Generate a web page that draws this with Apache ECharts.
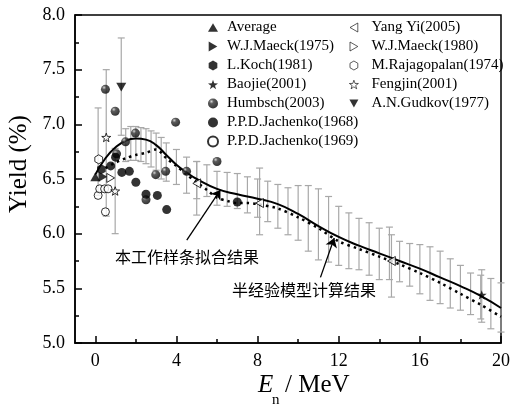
<!DOCTYPE html>
<html>
<head>
<meta charset="utf-8">
<script src="https://cdn.jsdelivr.net/npm/echarts@6/dist/echarts.min.js"></script>
<style>
html,body{margin:0;padding:0;background:#fff}
#chart{width:513px;height:405px}
</style>
</head>
<body>
<div id="chart"></div>
<script>
// spline fit of this work (solid line)
const fitX = [0,0.5,1,1.5,2,2.5,3,3.5,4,4.5,5,6,7,8,9,10,11,12,13,14,15,16,17,18,19,20];
const fitY = [6.54,6.69,6.79,6.85,6.87,6.86,6.81,6.72,6.63,6.56,6.50,6.41,6.36,6.32,6.27,6.18,6.07,5.97,5.89,5.82,5.75,5.68,5.60,5.52,5.43,5.32];

// semi-empirical model (dotted line)
const modelX = [0.5,1,1.5,2,2.5,3,3.25,3.5,4,4.5,5,5.5,6,6.5,7,7.5,8,9,10,11,12,13,14,15,16,17,18,19,20];
const modelY = [6.60,6.65,6.69,6.72,6.74,6.77,6.74,6.69,6.62,6.54,6.47,6.40,6.33,6.30,6.28,6.28,6.27,6.23,6.15,6.05,5.93,5.86,5.79,5.72,5.64,5.55,5.45,5.35,5.24];

// error band of the fit: x, low, high
const errX  = [1.5,1.75,2,2.25,2.5,2.75,3,3.25,3.5,4,4.5,5,5.5,6,6.5,7,7.5,8,8.5,9,9.5,10,10.5,11,11.5,12,12.5,13,13.5,14,14.5,15,15.5,16,16.5,17,17.5,18,18.5,19,19.5,20];
const errLo = [6.66,6.67,6.67,6.66,6.64,6.61,6.58,6.50,6.48,6.45,6.37,6.32,6.34,6.26,6.25,6.23,6.19,6.15,6.11,6.05,5.99,5.94,5.84,5.76,5.74,5.71,5.68,5.67,5.62,5.58,5.58,5.56,5.52,5.45,5.39,5.36,5.32,5.30,5.26,5.22,5.13,5.10];
const errHi = [6.96,6.98,6.98,6.97,6.96,6.94,6.92,6.88,6.83,6.77,6.70,6.66,6.63,6.57,6.56,6.55,6.52,6.50,6.48,6.45,6.42,6.44,6.44,6.41,6.34,6.25,6.19,6.14,6.10,6.05,6.06,5.93,5.91,5.90,5.88,5.84,5.77,5.71,5.64,5.62,5.59,5.55];

// measurements
const average     = [[0, 6.52]];
const maeck1975   = [[0.38, 6.52]];
const koch1981    = [[0.3, 6.59]];
const baojie2001  = [[19.05, 5.44]];
const humbsch2003 = [[0.5,7.32],[0.98,7.12],[1.05,6.73],[1.49,6.84],[1.98,6.92],[2.5,6.31],[2.98,6.54],[3.47,6.57],[3.96,7.02],[4.5,6.57],[6.0,6.66]];
const ppd1968     = [[0.76,6.62],[1.0,6.70],[1.31,6.56],[1.68,6.57],[2.0,6.47],[2.5,6.36],[3.06,6.35],[3.52,6.22],[7.0,6.29]];
const ppd1969     = [[0.14,6.35],[0.22,6.41],[0.46,6.41],[0.63,6.41],[0.5,6.20]];
const yangyi2005  = [[5.0,6.46],[8.1,6.28],[14.6,5.75]];
const maeck1980   = [[0.76,6.51]];
const raja1974    = [[0.17,6.68]];
const fengjin2001 = [[0.54,6.88],[0.98,6.39]];
const gudkov1977  = [[1.28,7.34]];

// error bars of single measurements: x, low, high
const pointErr = [[1.28,6.90,7.79],[0.54,6.16,7.50],[0.14,6.35,7.15],[0.98,6.00,6.78],[5.0,6.17,6.66],[8.1,5.99,6.60],[14.6,5.42,5.99],[19.05,5.19,5.67]];

const majorX = [0,4,8,12,16,20];
const minorX = [2,6,10,14,18];

// arrows of the two notes
const arrowFit   = [[4.51,5.94],[6.17,6.40]];
const arrowModel = [[11.1,5.60],[11.78,5.96]];

const legendLeft  = ['Average','W.J.Maeck(1975)','L.Koch(1981)','Baojie(2001)','Humbsch(2003)','P.P.D.Jachenko(1968)','P.P.D.Jachenko(1969)'];
const legendRight = ['Yang Yi(2005)','W.J.Maeck(1980)','M.Rajagopalan(1974)','Fengjin(2001)','A.N.Gudkov(1977)'];

const serif = 'Liberation Serif';
const triUp = 'path://M0,-1L0.866,0.5L-0.866,0.5Z';
const triDown = 'path://M0,1L0.866,-0.5L-0.866,-0.5Z';
const triRight = 'path://M1,0L-0.5,0.866L-0.5,-0.866Z';
const triLeft = 'path://M-1,0L0.5,0.866L0.5,-0.866Z';
const hexagon = 'path://M0,-1L0.866,-0.5L0.866,0.5L0,1L-0.866,0.5L-0.866,-0.5Z';
const star = 'path://M0,-1L0.235,-0.324L0.951,-0.309L0.380,0.124L0.588,0.809L0,0.4L-0.588,0.809L-0.380,0.124L-0.951,-0.309L-0.235,-0.324Z';
const ball = {type:'radial', x:0.35, y:0.3, r:0.75, colorStops:[{offset:0,color:'#c8c8c8'},{offset:0.3,color:'#333'},{offset:1,color:'#000'}]};
const filled = {color:'#000'};
const hollow = {color:'#fff', borderColor:'#000', borderWidth:1};

function errRender(params, api) {
  const x = api.value(0);
  const p1 = api.coord([x, api.value(2)]);
  const p2 = api.coord([x, api.value(1)]);
  const st = {stroke:'#a8a8a8', lineWidth:1.2};
  return {type:'group', children:[
    {type:'line', shape:{x1:p1[0], y1:p1[1], x2:p2[0], y2:p2[1]}, style:st},
    {type:'line', shape:{x1:p1[0]-3.5, y1:p1[1], x2:p1[0]+3.5, y2:p1[1]}, style:st},
    {type:'line', shape:{x1:p2[0]-3.5, y1:p2[1], x2:p2[0]+3.5, y2:p2[1]}, style:st}
  ]};
}

function pts(name, data, symbol, size, style) {
  return {name, type:'scatter', data, symbol, symbolSize:size,
    symbolKeepAspect:true, itemStyle:style, z:5};
}

const chart = echarts.init(document.getElementById('chart'));
chart.setOption({
  animation: false,
  backgroundColor: '#fff',
  grid: {left:75, right:8, top:15, bottom:62, show:true, borderColor:'#000', borderWidth:1.5},
  legend: [
    {data:legendLeft, orient:'vertical', left:202, top:15, itemWidth:10, itemHeight:10, itemGap:4,
     textStyle:{fontFamily:serif, fontSize:15, color:'#000', padding:[0,0,0,4]}},
    {data:legendRight, orient:'vertical', left:344, top:15, itemWidth:9, itemHeight:9, itemGap:4,
     itemStyle:{borderWidth:0.8},
     textStyle:{fontFamily:serif, fontSize:15, color:'#000', padding:[0,0,0,8]}}
  ],
  xAxis: [
    {type:'value', min:-1, max:20,
     axisLine:{onZero:false, lineStyle:{color:'#000', width:1.5}},
     axisTick:{inside:true, length:7, customValues:majorX, lineStyle:{color:'#000', width:1.5}},
     axisLabel:{customValues:majorX, fontFamily:serif, fontSize:18, color:'#000', margin:9},
     splitLine:{show:false}},
    {type:'value', min:-1, max:20, position:'bottom',
     axisLine:{show:false, onZero:false},
     axisTick:{inside:true, length:4, customValues:minorX, lineStyle:{color:'#000', width:1.5}},
     axisLabel:{show:false}, splitLine:{show:false}}
  ],
  yAxis: {type:'value', min:5, max:8, interval:0.5,
    axisLine:{show:true, onZero:false, lineStyle:{color:'#000', width:1.5}},
    axisTick:{inside:true, length:7, lineStyle:{color:'#000', width:1.5}},
    minorTick:{show:true, splitNumber:2, length:4, lineStyle:{color:'#000', width:1.5}},
    axisLabel:{fontFamily:serif, fontSize:18, color:'#000', margin:10, formatter:v => v.toFixed(1)},
    splitLine:{show:false}},
  graphic: [
    {type:'text', x:19, y:164, rotation:Math.PI/2,
     style:{text:'Yield (%)', font:'25px "Liberation Serif"', fill:'#000', align:'center', verticalAlign:'middle'}},
    {type:'text', x:258, y:385,
     style:{text:'E', font:'italic 25px "Liberation Serif"', fill:'#000', verticalAlign:'middle'}},
    {type:'text', x:272, y:400,
     style:{text:'n', font:'15px "Liberation Serif"', fill:'#000', verticalAlign:'middle'}},
    {type:'text', x:285, y:385,
     style:{text:'/ MeV', font:'25px "Liberation Serif"', fill:'#000', verticalAlign:'middle'}},
    {type:'text', x:115, y:257,
     style:{text:'本工作样条拟合结果', font:'16px "Noto Sans CJK SC"', fill:'#000', verticalAlign:'middle'}},
    {type:'text', x:232, y:290,
     style:{text:'半经验模型计算结果', font:'16px "Noto Sans CJK SC"', fill:'#000', verticalAlign:'middle'}}
  ],
  series: [
    {type:'custom', renderItem:errRender, encode:{x:0, y:[1,2]}, silent:true, z:1,
     data: errX.map((x, i) => [x, errLo[i], errHi[i]])},
    {type:'custom', renderItem:errRender, encode:{x:0, y:[1,2]}, silent:true, z:1, data: pointErr},
    {type:'line', data: fitX.map((x, i) => [x, fitY[i]]), smooth:0.5, showSymbol:false, z:3,
     lineStyle:{color:'#000', width:2},
     markLine:{silent:true, symbol:['none','arrow'], symbolSize:9, label:{show:false},
       lineStyle:{color:'#000', width:1.3, type:'solid'},
       data:[[{coord:arrowFit[0]},{coord:arrowFit[1]}],[{coord:arrowModel[0]},{coord:arrowModel[1]}]]}},
    {type:'line', data: modelX.map((x, i) => [x, modelY[i]]), smooth:0.3, showSymbol:false, z:3,
     lineStyle:{color:'#000', width:2.5, type:[2.5,4]}},
    pts('Average', average, triUp, 10, filled),
    pts('W.J.Maeck(1975)', maeck1975, triRight, 10, filled),
    pts('L.Koch(1981)', koch1981, hexagon, 10, filled),
    pts('Baojie(2001)', baojie2001, star, 10, filled),
    pts('Humbsch(2003)', humbsch2003, 'circle', 9, {color:ball}),
    pts('P.P.D.Jachenko(1968)', ppd1968, 'circle', 9, filled),
    pts('P.P.D.Jachenko(1969)', ppd1969, 'circle', 8, hollow),
    pts('Yang Yi(2005)', yangyi2005, triLeft, 9, hollow),
    pts('W.J.Maeck(1980)', maeck1980, triRight, 9, hollow),
    pts('M.Rajagopalan(1974)', raja1974, hexagon, 9, hollow),
    pts('Fengjin(2001)', fengjin2001, star, 9, hollow),
    pts('A.N.Gudkov(1977)', gudkov1977, triDown, 10, filled)
  ]
});
</script>
</body>
</html>
